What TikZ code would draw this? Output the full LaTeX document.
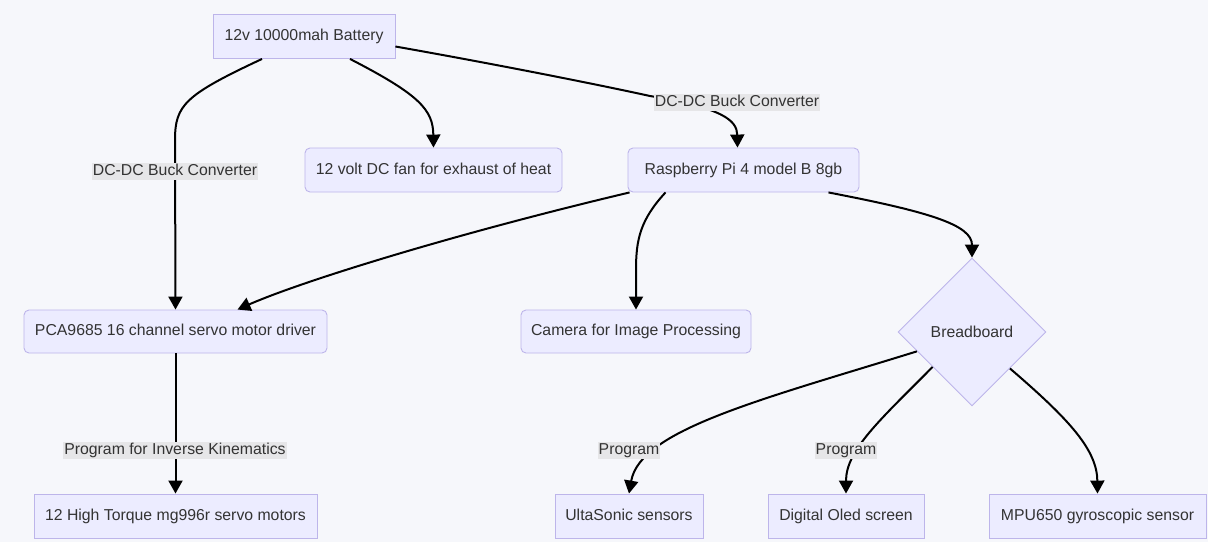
\documentclass[tikz,border=0pt]{standalone}
\usepackage{fontspec}
\setmainfont{Liberation Sans}
\usetikzlibrary{arrows.meta,shapes.geometric,calc}
\definecolor{bgc}{HTML}{F6F7FB}
\definecolor{nodefill}{HTML}{ECECFF}
\definecolor{nodeline}{HTML}{BDB5EA}
\definecolor{txt}{HTML}{333333}
\definecolor{lblbg}{HTML}{E6E6E8}
\tikzset{
  fnt/.style={font=\fontsize{15.8}{19}\selectfont},
  box/.style={draw=nodeline,fill=nodefill,line width=0.9pt,text=txt,fnt,inner sep=0pt,minimum height=44pt,text height=11.5pt,text depth=3.5pt},
  rbox/.style={box,rounded corners=5pt},
  dia/.style={diamond,draw=nodeline,fill=nodefill,line width=0.9pt,text=txt,fnt,inner sep=0pt,minimum width=148pt,minimum height=148pt},
  lbl/.style={fill=lblbg,text=txt,fnt,inner sep=1pt,text height=11.5pt,text depth=3.5pt},
  link/.style={line width=2pt,black,-{Triangle[width=14pt,length=13pt]}},
}
\begin{document}
\begin{tikzpicture}[x=1pt,y=-1pt]
\fill[bgc] (0,0) rectangle (1208,542);
\useasboundingbox (0,0) rectangle (1208,542);
% nodes
\node[box,minimum width=182pt] (bat) at (304,36.5) {12v 10000mah Battery};
\node[rbox,minimum width=257pt] (fan) at (433.5,170) {12 volt DC fan for exhaust of heat};
\node[rbox,minimum width=231pt] (rpi) at (743.5,170) {Raspberry Pi 4 model B 8gb};
\node[rbox,minimum width=303pt,minimum height=43pt] (pca) at (175.5,331.5) {PCA9685 16 channel servo motor driver};
\node[rbox,minimum width=230pt,minimum height=43pt] (cam) at (636,331.5) {Camera for Image Processing};
\node[dia] (bb) at (972,332) {Breadboard};
\node[box,minimum width=283pt] (mot) at (175.5,516) {12 High Torque mg996r servo motors};
\node[box,minimum width=148pt] (ult) at (629,516) {UltaSonic sensors};
\node[box,minimum width=156pt] (oled) at (846,516) {Digital Oled screen};
\node[box,minimum width=217pt] (mpu) at (1097.5,516) {MPU650 gyroscopic sensor};
% connectors
\draw[link] ($(bat.south)+(-42,0)$) .. controls (185,95) and (175,105) .. (175,140) -- (pca.north);
\draw[link] ($(bat.south)+(46,0)$) .. controls (420,95) and (433,110) .. (fan.north);
\draw[link] ($(bat.east)+(0,10)$) .. controls (500,65) and (600,85) .. (650,96) .. controls (722,108) and (737,120) .. ($(rpi.north)+(-6,0)$);
\draw[link] ($(rpi.south west)+(2,0)$) .. controls (450,235) and (300,282) .. ($(pca.north)+(62,0)$);
\draw[link] ($(rpi.south)+(-78,0)$) .. controls (640,220) and (636,240) .. (636,270) -- (cam.north);
\draw[link] ($(rpi.south)+(85,0)$) .. controls (930,212) and (972,225) .. (bb.north);
\draw[link] (pca.south) -- (mot.north);
\draw[link] ($(bb.west)!0.26!(bb.south)$) .. controls (760,400) and (640,430) .. (ult.north);
\draw[link] ($(bb.west)!0.47!(bb.south)$) .. controls (880,420) and (846,450) .. (oled.north);
\draw[link] ($(bb.south)!0.51!(bb.east)$) .. controls (1070,420) and (1097,450) .. (mpu.north);
% labels
\node[lbl] (l1) at (175,171) {DC-DC Buck Converter};
\node[lbl] (l2) at (737,102) {DC-DC Buck Converter};
\node[lbl] (l3) at (175,450) {Program for Inverse Kinematics};
\node[lbl] (l4) at (629,450) {Program};
\node[lbl] (l5) at (846,450) {Program};
\end{tikzpicture}
\end{document}
